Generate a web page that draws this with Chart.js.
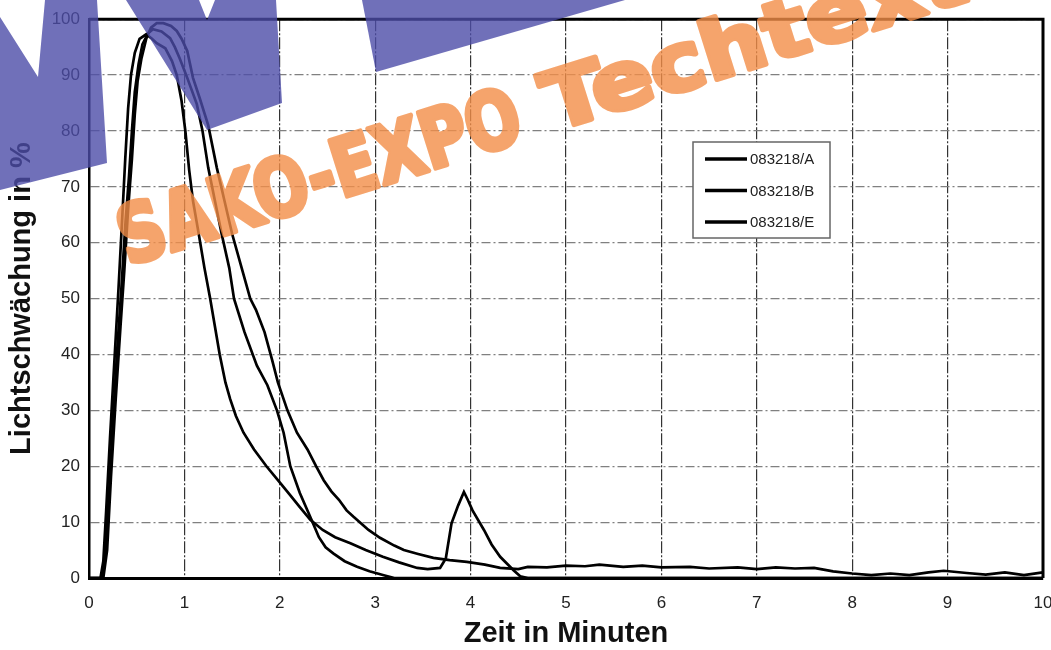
<!DOCTYPE html>
<html><head><meta charset="utf-8">
<script src="https://cdn.jsdelivr.net/npm/chart.js@4"></script>
<style>html,body{margin:0;padding:0;background:#fff;}#wrap{width:1051px;height:650px;position:relative;}</style>
</head><body><div id="wrap"><canvas id="c" width="1051" height="650"></canvas></div>
<script>
// ---------- data ----------
const seriesLabels = ['083218/A', '083218/B', '083218/E'];
const xTicks = [0,1,2,3,4,5,6,7,8,9,10];
const yTicks = [0,10,20,30,40,50,60,70,80,90,100];

const timeA = [0,0.15,0.19,0.23,0.28,0.33,0.37,0.41,0.45,0.48,0.51,0.55,0.60,0.65,0.71,0.78,0.86,0.92,0.97,1.03,1.09,1.16,1.25,1.34,1.42,1.50,1.60,1.69,1.75,1.84,1.92,1.98,2.08,2.18,2.29,2.38,2.46,2.54,2.62,2.70,2.77,2.85,2.93,3.05,3.20,3.30,3.45,3.61,3.78,3.96,4.15,4.31,4.50,4.60,4.80,5.00,5.20,5.35,5.60,5.80,6.00,6.30,6.50,6.80,7.00,7.20,7.40,7.60,7.80,8.00,8.20,8.40,8.60,8.80,8.96,9.20,9.40,9.60,9.80,10.0];
const valA  = [0,0,5,18,32,45,55,66,75,83,89,93,96.5,98.5,99.3,99.3,98.8,97.9,96.5,94.3,89.5,85.9,81,73.4,67.5,61.6,55.5,50,48,44,39,35,30,26,23,20,17.5,15.5,14,12.1,11,9.8,8.6,7.2,5.8,5,4.3,3.6,3.2,2.9,2.4,1.8,1.6,2.0,1.9,2.2,2.1,2.4,2.0,2.2,1.9,2.0,1.7,1.9,1.6,1.9,1.7,1.8,1.2,0.8,0.5,0.8,0.5,1.0,1.3,0.9,0.6,1.0,0.5,1.0];

const timeB = [0,0.12,0.15,0.18,0.22,0.27,0.31,0.35,0.38,0.41,0.44,0.48,0.53,0.60,0.66,0.71,0.80,0.87,0.92,0.97,1.01,1.05,1.09,1.15,1.21,1.27,1.32,1.37,1.43,1.48,1.54,1.62,1.73,1.86,1.98,2.10,2.21,2.32,2.45,2.58,2.74,2.90,3.08,3.25,3.44,3.55,3.68,3.74,3.80,3.87,3.93,3.97,4.02,4.14,4.22,4.31,4.45,4.52,4.60,10.0];
const valB  = [0,0,3,12,25,40,52,65,75,84,90,94,96.5,97.3,96.5,95.7,94.8,92.5,90,85.4,80,73,67.5,61.6,55.5,50,45,40,35,32,29,26,23,20,17.5,15,12.7,10.4,8.6,7.3,6.2,5,3.8,2.8,1.8,1.6,1.8,3.5,9.8,13,15.4,14,12.1,8.6,6,3.8,1.4,0.3,0,0];

const timeE = [0,0.13,0.17,0.21,0.25,0.30,0.34,0.38,0.42,0.45,0.48,0.52,0.56,0.62,0.67,0.76,0.85,0.90,0.95,1.03,1.13,1.19,1.25,1.32,1.39,1.47,1.52,1.63,1.76,1.87,1.97,2.04,2.11,2.21,2.33,2.41,2.48,2.56,2.68,2.81,2.94,3.09,3.20,10.0];
const valE  = [0,0,4,15,28,42,52,63,72,80,87,92,95.5,97.5,98.2,97.8,96.6,95,93,89.5,84.8,80,73.4,67.5,61.6,55.5,50,44,38,34.5,30,26,20,15.2,10.5,7.3,5.5,4.4,3,2,1.2,0.5,0,0];

const xTitle = 'Zeit in Minuten';
const yTitle = 'Lichtschwächung in %';
const watermarkWords = ['SAKO-EXPO', 'Techtextil'];

// ---------- build ----------
const pts = (t, v) => t.map((x, i) => ({x: x, y: v[i]}));
const FONT = '"Liberation Sans", Arial, Helvetica, sans-serif';

const frame = {
  id: 'frame',
  afterDatasetsDraw(chart) {
    const {ctx, chartArea: a} = chart;
    ctx.save();
    ctx.strokeStyle = '#000';
    ctx.lineWidth = 3;
    ctx.beginPath();
    ctx.moveTo(a.left, a.top); ctx.lineTo(a.right, a.top); ctx.lineTo(a.right, a.bottom);
    ctx.stroke();
    ctx.restore();
  }
};

const legendBox = {
  id: 'legendBox',
  afterDatasetsDraw(chart) {
    const ctx = chart.ctx;
    const bx = 693, by = 142, bw = 137, bh = 96;
    ctx.save();
    ctx.fillStyle = '#fff';
    ctx.fillRect(bx, by, bw, bh);
    ctx.strokeStyle = '#666';
    ctx.lineWidth = 1.5;
    ctx.strokeRect(bx, by, bw, bh);
    ctx.font = '15px ' + FONT;
    ctx.textBaseline = 'middle';
    ctx.fillStyle = '#222';
    chart.data.datasets.forEach((ds, i) => {
      const y = by + 17 + i * 31.5;
      ctx.strokeStyle = '#000';
      ctx.lineWidth = 3.5;
      ctx.beginPath(); ctx.moveTo(bx + 12, y); ctx.lineTo(bx + 54, y); ctx.stroke();
      ctx.fillText(ds.label, bx + 57, y + 1);
    });
    ctx.restore();
  }
};

function drawFit(c, t, x0, w) {
  const m = c.measureText(t).width;
  c.save(); c.translate(x0, 0); c.scale(w / m, 1);
  c.strokeText(t, 0, 0); c.fillText(t, 0, 0);
  c.restore();
}
const watermark = {
  id: 'watermark',
  afterDraw(chart) {
    const c = chart.ctx;
    const W = chart.width, H = chart.height;
    // orange text drawn opaque offscreen, then composited translucently
    const off = document.createElement('canvas');
    off.width = W; off.height = H;
    const o = off.getContext('2d');
    o.fillStyle = 'rgb(243,142,72)';
    o.strokeStyle = 'rgb(243,142,72)';
    o.lineWidth = 5; o.lineJoin = 'round';
    o.translate(126, 266);
    o.rotate(-17.5 * Math.PI / 180);
    o.font = 'bold 80px "DejaVu Sans Condensed", "Liberation Sans Narrow", ' + FONT;
    o.textBaseline = 'alphabetic';
    drawFit(o, watermarkWords[0], 2, 418);
    drawFit(o, watermarkWords[1], 448, 500);
    c.save();
    c.globalAlpha = 0.8;
    c.drawImage(off, 0, 0);
    c.restore();

    const polys = [
      [[0,17],[38,77],[45,0],[97,0],[107,163],[0,190]],
      [[126,0],[199,0],[207,20],[215,0],[276,0],[282,103],[207,130]],
      [[362,0],[625,0],[376,72]]
    ];
    c.save();
    c.fillStyle = 'rgba(76,76,167,0.8)';
    polys.forEach(p => {
      c.beginPath();
      p.forEach(([x, y], i) => i ? c.lineTo(x, y) : c.moveTo(x, y));
      c.closePath(); c.fill();
    });
    c.restore();
  }
};

const mk = (label, t, v) => ({label, data: pts(t, v), borderColor: '#000', borderWidth: 2.7, pointRadius: 0, tension: 0, fill: false});

new Chart(document.getElementById('c').getContext('2d'), {
  type: 'line',
  data: {datasets: [mk(seriesLabels[0], timeA, valA), mk(seriesLabels[1], timeB, valB), mk(seriesLabels[2], timeE, valE)]},
  options: {
    responsive: false,
    animation: false,
    layout: {padding: {top: 17, right: 8, left: 0, bottom: 0}},
    plugins: {legend: {display: false}, tooltip: {enabled: false}},
    scales: {
      x: {
        type: 'linear', min: 0, max: 10,
        afterBuildTicks: s => { s.ticks = xTicks.map(v => ({value: v})); },
        ticks: {padding: 15, color: '#222', font: {family: FONT, size: 17}},
        grid: {color: '#333', lineWidth: 1.2, drawTicks: false},
        border: {display: true, color: '#000', width: 3, dash: [12, 2, 2, 2]},
        title: {display: true, text: xTitle, color: '#111', padding: {top: 0, bottom: 0}, font: {family: FONT, size: 29, weight: 'bold', lineHeight: 1.1}},
        afterFit: s => { s.height = 72; s.paddingRight = 0; }
      },
      y: {
        min: 0, max: 100,
        afterBuildTicks: s => { s.ticks = yTicks.map(v => ({value: v})); },
        ticks: {padding: 9, color: '#222', font: {family: FONT, size: 17}},
        grid: {color: '#808080', lineWidth: 1.2, drawTicks: false},
        border: {display: true, color: '#000', width: 2.5, dash: [9, 3, 2, 3]},
        title: {display: true, text: yTitle, color: '#111', padding: {top: 6, bottom: 0}, font: {family: FONT, size: 29, weight: 'bold', lineHeight: 1.1}},
        afterFit: s => { s.width = 89; }
      }
    }
  },
  plugins: [frame, legendBox, watermark]
});
</script></body></html>
